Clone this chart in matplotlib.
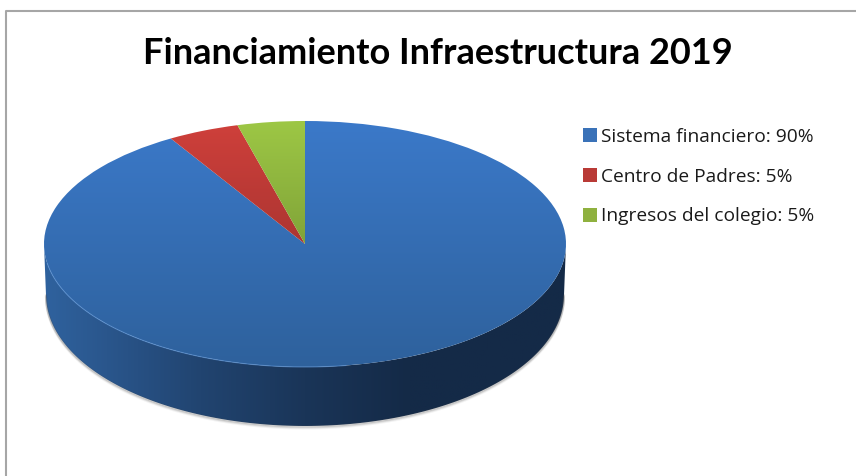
import numpy as np
import matplotlib
matplotlib.use('Agg')
import matplotlib.pyplot as plt
from matplotlib.colors import LinearSegmentedColormap
from matplotlib.patches import Patch, Polygon

title = 'Financiamiento Infraestructura 2019'
categories = ['Sistema financiero', 'Centro de Padres', 'Ingresos del colegio']
shares = [90, 5, 5]
swatches = ['#3a72b8', '#b93a36', '#8fb13f']

W, H = 856, 476
fig = plt.figure(figsize=(W / 100, H / 100), dpi=100)
plt.rcParams['font.family'] = ['Lato', 'DejaVu Sans']

# fondo en pixeles: marco, pared lateral y sombra
bg = fig.add_axes([0, 0, 1, 1])
bg.set_xlim(0, W)
bg.set_ylim(H, 0)
bg.axis('off')
bg.plot([6, 6, W], [H, 11, 11], color='#a6a6a6', lw=1.5)

cx, cy, rx, ry = 305, 244, 261, 123
base_rx, base_cy, base_ry = 259, 295, 131
t = np.linspace(0, np.pi, 200)
arc_x = cx + rx * np.cos(t)
arc_y = cy + ry * np.sin(t)
base_x = cx + base_rx * np.cos(t)
base_y = base_cy + base_ry * np.sin(t)

# sombra debajo del borde
for off, a in [(2.5, 0.07), (1.5, 0.14), (0.5, 0.22)]:
    bg.plot(base_x, base_y + off, color='#555555', alpha=a, lw=1.5)

wall_cmap = LinearSegmentedColormap.from_list(
    'wall', [(0, '#2f629e'), (0.12, '#2a568c'), (0.30, '#214470'),
             (0.50, '#1a3558'), (0.70, '#142a47'), (1, '#142a47')])
wall = np.vstack([np.linspace(0, 1, 256)] * 2)
im = bg.imshow(wall, cmap=wall_cmap, extent=(cx - rx, cx + rx, base_cy + base_ry, cy), aspect='auto')
poly = Polygon(np.r_[np.c_[base_x, base_y], np.c_[arc_x[::-1], arc_y[::-1]]],
               closed=True, transform=bg.transData, fc='none', ec='none')
bg.add_patch(poly)
im.set_clip_path(poly)
bg.set_xlim(0, W)
bg.set_ylim(H, 0)

# tapa de la torta: la perspectiva encoge las tajadas cerca del fondo
ax = fig.add_axes([(cx - rx) / W, 1 - (cy + ry) / H, 2 * rx / W, 2 * ry / H])
ax.patch.set_alpha(0)
k = 0.825
cum = np.cumsum(shares[::-1]) / 100 * 360
a1, a2 = np.degrees(np.arctan(k * np.tan(np.radians(cum[:2]))))
drawn = [360 - a2, a2 - a1, a1]
wedges, _ = ax.pie(drawn, startangle=90, counterclock=False, radius=1,
                   wedgeprops={'fc': 'none', 'ec': 'none'})
ax.set_aspect('auto')

grads = [('#3b79c9', '#2e619c'), ('#cf403b', '#8a2a28'), ('#9dc745', '#64802b')]
for w, (c_top, c_bot) in zip(wedges, grads):
    cm = LinearSegmentedColormap.from_list('g', [c_top, c_bot])
    g = ax.imshow(np.linspace(0, 1, 256)[:, None], cmap=cm, extent=(-1, 1, -1, 1), aspect='auto')
    g.set_clip_path(w)
ax.set_xlim(-1, 1)
ax.set_ylim(-1, 1)
ax.set_aspect('auto')

# brillo en el canto de la tapa, solo a la izquierda
edge = np.linspace(np.pi * 1.05, np.pi * 1.55, 100)
ax.plot(np.cos(edge), np.sin(edge), color='#5b93d6', lw=0.8, alpha=0.6, clip_on=False)

fig.text(437.5 / W, 1 - 54 / H, title, ha='center', va='center', fontsize=26,
         fontweight='bold', color='black')

handles = [Patch(fc=c, ec='none') for c in swatches]
labels = [f'{c}: {s}%' for c, s in zip(categories, shares)]
fig.legend(handles, labels, loc='upper left', bbox_to_anchor=(575.5 / W, 1 - 120 / H),
           frameon=False, labelspacing=1.14, handlelength=0.73, handleheight=0.73,
           handletextpad=0.2, labelcolor='#1a1a1a', borderpad=0.4, borderaxespad=0,
           prop={'family': 'Open Sans', 'size': 13.8})

fig.savefig('out.png', dpi=100)
